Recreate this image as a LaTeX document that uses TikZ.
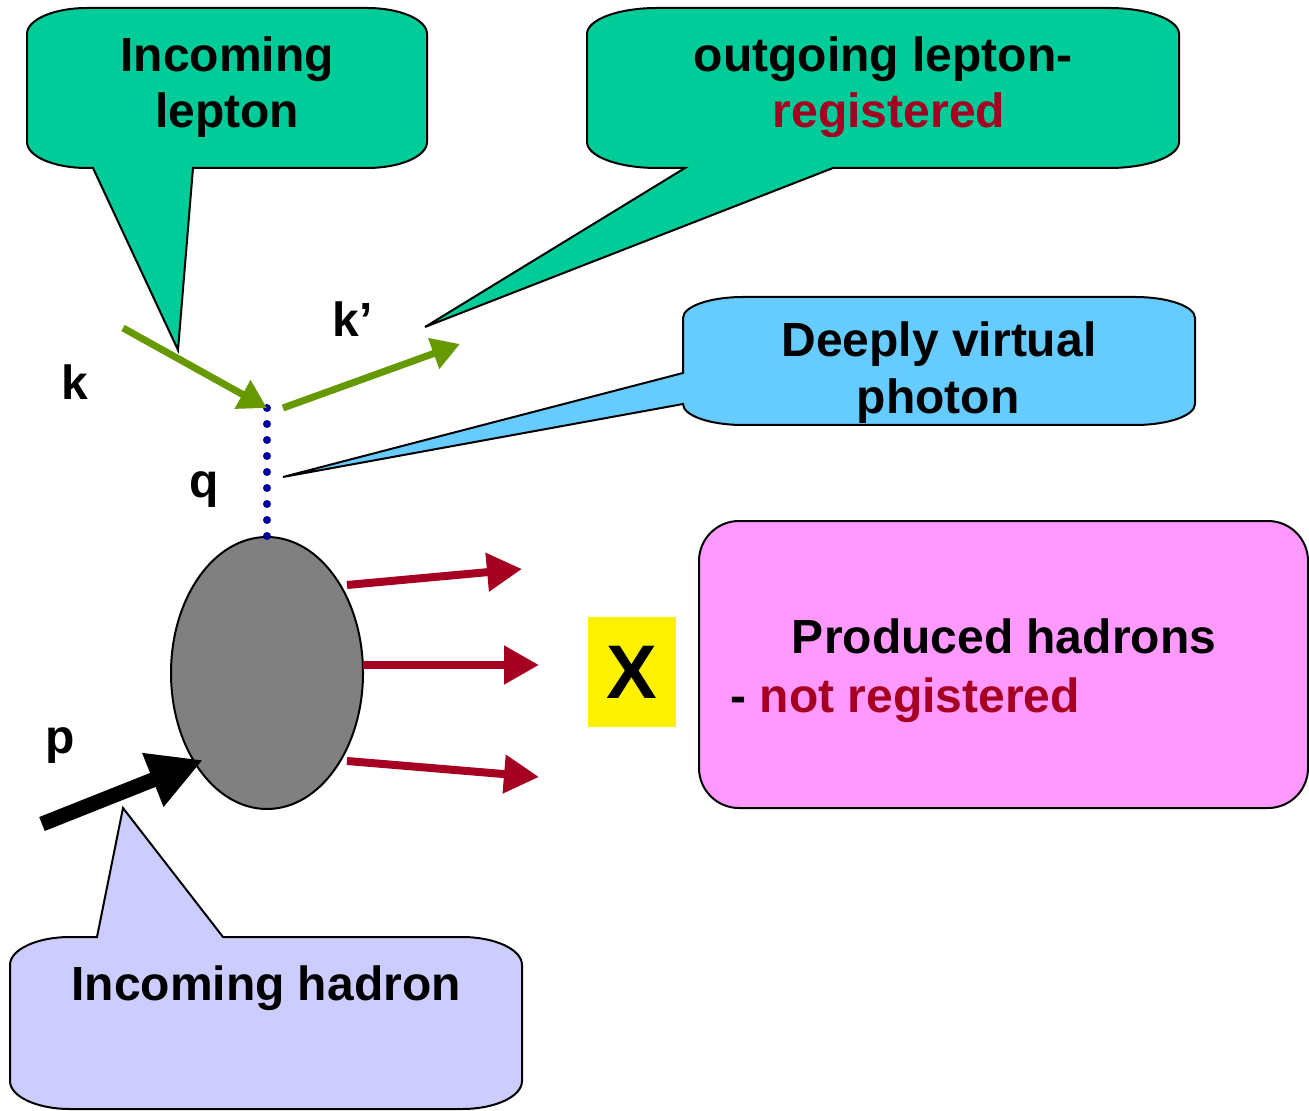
\documentclass[tikz,border=0pt]{standalone}
\usepackage{fontspec}
\setmainfont{Liberation Sans}
\usetikzlibrary{arrows.meta,shapes.geometric}
\definecolor{tealc}{HTML}{00CC99}
\definecolor{bluec}{HTML}{66CCFF}
\definecolor{lavc}{HTML}{CCCCFF}
\definecolor{pinkc}{HTML}{FF99FF}
\definecolor{dred}{HTML}{A50021}
\definecolor{greenc}{HTML}{669900}
\definecolor{navyc}{HTML}{000099}
\begin{document}
\begin{tikzpicture}[x=0.5pt,y=-0.5pt,
  callout/.style={draw=black,line width=1pt,line join=miter},
  lbl/.style={font=\fontsize{24}{28}\selectfont\bfseries,inner sep=0pt,anchor=base},
  leptonarrow/.style={draw=greenc,line width=3.5pt,-{Triangle[length=14pt,width=15.5pt]}},
  hadarrow/.style={draw=dred,line width=4pt,-{Triangle[length=17.5pt,width=18.5pt]}},
  protarrow/.style={draw=black,line width=7.5pt,-{Triangle[length=27pt,width=27pt]}},
  photon/.style={draw=navyc,line width=4pt,line cap=round,dash pattern=on 0pt off 8pt}]
\useasboundingbox (0,0) rectangle (1309,1111);
\fill[white] (0,0) rectangle (1309,1111);

% callout: incoming lepton
\path[callout,fill=tealc] (87,8) -- (367,8) .. controls (400.1,8) and (427,19.6) .. (427,34) -- (427,142) .. controls (427,156.4) and (400.1,168) .. (367,168) -- (193,168) -- (178,350) -- (93,168) -- (87,168) .. controls (53.9,168) and (27,156.4) .. (27,142) -- (27,34) .. controls (27,19.6) and (53.9,8) .. (87,8) -- cycle;
% callout: outgoing lepton
\path[callout,fill=tealc] (657,8) -- (1109,8) .. controls (1147.6,8) and (1179,19.6) .. (1179,34) -- (1179,142) .. controls (1179,156.4) and (1147.6,168) .. (1109,168) -- (833,168) -- (425,327) -- (685,168) -- (657,168) .. controls (618.4,168) and (587,156.4) .. (587,142) -- (587,34) .. controls (587,19.6) and (618.4,8) .. (657,8) -- cycle;
% callout: deeply virtual photon
\path[callout,fill=bluec] (743,297) -- (1135,297) .. controls (1168.1,297) and (1195,306.4) .. (1195,318) -- (1195,404) .. controls (1195,415.6) and (1168.1,425) .. (1135,425) -- (743,425) .. controls (709.9,425) and (683,415.6) .. (683,404) -- (283,477) -- (683,373) -- (683,318) .. controls (683,306.4) and (709.9,297) .. (743,297) -- cycle;
% callout: incoming hadron
\path[callout,fill=lavc] (70,937) -- (97,937) -- (123,808) -- (223,937) -- (462,937) .. controls (495.1,937) and (522,949.5) .. (522,965) -- (522,1081) .. controls (522,1096.5) and (495.1,1109) .. (462,1109) -- (70,1109) .. controls (36.9,1109) and (10,1096.5) .. (10,1081) -- (10,965) .. controls (10,949.5) and (36.9,937) .. (70,937) -- cycle;

% produced hadrons box
\draw[line width=1pt,fill=pinkc,rounded corners=20pt] (699,521) rectangle (1308,808);

% callout texts
\node[lbl] (t1a) at (227,72) {Incoming};
\node[lbl] (t1b) at (227,128) {lepton};
\node[lbl] (t2a) at (883,72) {outgoing lepton-};
\node[lbl,text=dred] (t2b) at (889,128) {registered};
\node[lbl] (t3a) at (939,357) {Deeply virtual};
\node[lbl] (t3b) at (938,414) {photon};
\node[lbl] (t4) at (266,1000) {Incoming hadron};
\node[lbl] (t5a) at (1004,653) {Produced hadrons};
\node[lbl,anchor=base west] (t5b) at (730,712) {- \textcolor{dred}{not registered}};

% X box
\node[fill=yellow,minimum width=44pt,minimum height=55pt,inner sep=0pt,
      font=\fontsize{38}{44}\selectfont\bfseries] (X) at (631.5,672) {X};

% hadron blob
\node[ellipse,draw=black,line width=1pt,fill=gray,minimum width=96pt,minimum height=136pt,inner sep=0pt,outer sep=0pt] (blob) at (267,673) {};

% coordinates
\coordinate (vtx) at (267,408);
\coordinate (kin) at (123,328);
\coordinate (kout0) at (283,408);
\coordinate (kout1) at (460,344);
\coordinate (h1a) at (347,585);
\coordinate (h1b) at (522,569);
\coordinate (h2a) at (363,665);
\coordinate (h2b) at (539,665);
\coordinate (h3a) at (347,761);
\coordinate (h3b) at (539,777);
\coordinate (pin) at (42,824);
\coordinate (pout) at (203,760);

% photon line
\draw[photon] (vtx) -- (blob.north);

% lepton arrows
\draw[leptonarrow] (kin) -- (vtx);
\draw[leptonarrow] (kout0) -- (kout1);

% hadron arrows
\draw[hadarrow] (h1a) -- (h1b);
\draw[hadarrow] (h2a) -- (h2b);
\draw[hadarrow] (h3a) -- (h3b);

% proton arrow
\draw[protarrow] (pin) -- (pout);

% labels
\node[lbl] (lk) at (75,400) {k};
\node[lbl] (lkp) at (353,337) {k’};
\node[lbl] (lq) at (204,497) {q};
\node[lbl] (lp) at (60,753) {p};
\end{tikzpicture}
\end{document}
